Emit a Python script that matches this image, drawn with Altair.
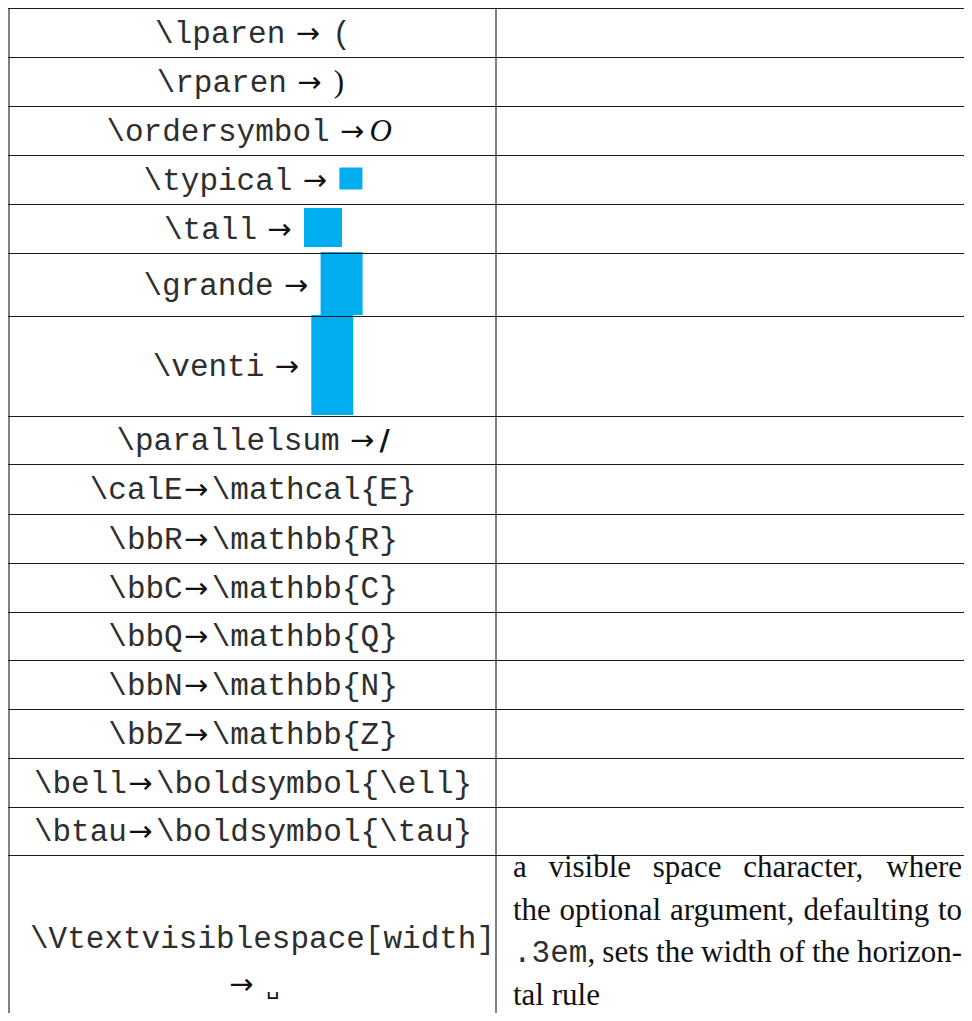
import altair as alt
import pandas as pd

# ---------------- data (content of the table) ----------------
commands = ["\\lparen", "\\rparen", "\\ordersymbol", "\\typical", "\\tall", "\\grande",
            "\\venti", "\\parallelsum", "\\calE", "\\bbR", "\\bbC", "\\bbQ", "\\bbN",
            "\\bbZ", "\\bell", "\\btau", "\\Vtextvisiblespace[width]"]
results = ["(", ")", "O", "", "", "", "", "/", "\\mathcal{E}", "\\mathbb{R}", "\\mathbb{C}",
           "\\mathbb{Q}", "\\mathbb{N}", "\\mathbb{Z}", "\\boldsymbol{\\ell}",
           "\\boldsymbol{\\tau}", "\u2423"]
result_kinds = ["mono", "serif", "calig", "box", "box", "box", "box", "bold",
                "mono", "mono", "mono", "mono", "mono", "mono", "mono", "mono", "vspace"]
descriptions = [""] * 16 + [
    "a visible space character, where|the optional argument, defaulting to|"
    "`.3em`, sets the width of the horizon-|tal rule"
]

# ---------------- layout (page pixel geometry) ----------------
W, H = 956, 1005                      # drawing area (page minus 8px margins)
X0, Y0 = 8, 8
TABLE_LEFT, COL_SPLIT, TABLE_RIGHT, TABLE_TOP = 9, 496, 972, 8
row_heights = [49, 49, 49, 49, 49, 63, 100, 48, 50, 49, 49, 48, 49, 49, 49, 48, 200]
box_dims = {"\\typical": (23, 22), "\\tall": (38, 39), "\\grande": (42, 63), "\\venti": (42, 100)}
F = 31
CW = 0.6 * F
CELL_CENTER = 253
CELL_PAD = 21
ARROW = 25
DESC_LEFT, DESC_RIGHT = 513, 962
DESC_FIRST = 22
DESC_LEAD = 42.5

MONO = "Liberation Mono, Courier New, monospace"
SERIF = "Liberation Serif, Times New Roman, serif"
INK = "#111111"
MONO_INK = "#2e2e2e"
BLUE = "#00AEEF"

TW = {' ': 250, ',': 250, '-': 333, '.': 250, 'a': 444, 'b': 500, 'c': 444, 'd': 500,
      'e': 444, 'f': 333, 'g': 500, 'h': 500, 'i': 278, 'j': 278, 'k': 500, 'l': 278,
      'm': 778, 'n': 500, 'o': 500, 'p': 500, 'q': 500, 'r': 333, 's': 389, 't': 278,
      'u': 500, 'v': 500, 'w': 722, 'x': 500, 'y': 500, 'z': 444}


def serif_w(s, fs=F):
    return sum(TW.get(c, 500) for c in s) * fs / 1000.0


layers = {k: [] for k in ["mono", "serif", "arrow", "calig", "bold", "vspace"]}
boxes, hrules, vrules = [], [], []

y = TABLE_TOP
bounds = [y]
for i, cmd in enumerate(commands):
    h = row_heights[i]
    top, bottom = y, y + h
    cy = (top + bottom) / 2
    res, kind = results[i], result_kinds[i]
    tight = kind == "mono" and len(res) > 1
    cmd_w = len(cmd) * CW
    if kind == "box":
        res_w = box_dims[cmd][0]
    elif kind == "mono":
        res_w = len(res) * CW
    elif kind == "serif":
        res_w = serif_w(res)
    elif kind == "calig":
        res_w = 30
    elif kind == "bold":
        res_w = 10
    else:
        res_w = 11
    if tight:
        pre, post = 1, 3
    else:
        pre, post = 10, (5 if kind in ("calig", "bold") else 12)

    def place_result(rx, base):
        if kind == "box":
            bw, bh = box_dims[cmd]
            boxes.append({"x": rx, "x2": rx + bw, "y": cy - 1 - bh / 2, "y2": cy - 1 + bh / 2})
        else:
            layers[kind].append({"x": rx, "y": base, "t": res})

    total = cmd_w + pre + ARROW + post + res_w
    if total <= COL_SPLIT - TABLE_LEFT - 2 * CELL_PAD:
        base = cy + 10
        x0 = CELL_CENTER - total / 2
        layers["mono"].append({"x": x0, "y": base, "t": cmd})
        layers["arrow"].append({"x": x0 + cmd_w + pre + ARROW / 2, "y": base, "t": "\u2192"})
        place_result(x0 + cmd_w + pre + ARROW + post, base)
    else:
        base1 = top + 93
        base2 = top + 139
        x0 = max(CELL_CENTER - cmd_w / 2, TABLE_LEFT + CELL_PAD)
        layers["mono"].append({"x": x0, "y": base1, "t": cmd})
        tot2 = ARROW + post + res_w
        x1 = CELL_CENTER - tot2 / 2
        layers["arrow"].append({"x": x1 + ARROW / 2, "y": base2, "t": "\u2192"})
        place_result(x1 + ARROW + post, base2)

    # description column (justified text)
    if descriptions[i]:
        lines = descriptions[i].split("|")
        for k, line in enumerate(lines):
            base = top + DESC_FIRST + k * DESC_LEAD
            words = []
            for wtxt in line.split(" "):
                segs = []
                parts = wtxt.split("`")
                for j, p in enumerate(parts):
                    if p:
                        segs.append(("mono" if j % 2 == 1 else "serif", p))
                words.append(segs)
            widths = [sum(len(p) * CW if f == "mono" else serif_w(p) for f, p in segs)
                      for segs in words]
            last = k == len(lines) - 1
            if last or len(words) < 2:
                gap = serif_w(" ")
            else:
                gap = (DESC_RIGHT - DESC_LEFT - sum(widths)) / (len(words) - 1)
            cx = DESC_LEFT
            for segs, ww in zip(words, widths):
                sx = cx
                for f, p in segs:
                    layers[f].append({"x": sx, "y": base, "t": p})
                    sx += len(p) * CW if f == "mono" else serif_w(p)
                cx += ww + gap

    y = bottom
    bounds.append(y)

x_end = min(TABLE_RIGHT, X0 + W)
y_end = min(bounds[-1], Y0 + H)
for b in bounds:
    if b <= Y0 + H:
        hrules.append({"x": TABLE_LEFT - 1, "x2": x_end, "y": b + 0.5, "y2": b + 0.5})
for vx in [TABLE_LEFT, COL_SPLIT]:
    vrules.append({"x": vx, "x2": vx, "y": TABLE_TOP, "y2": y_end})

XS = alt.Scale(domain=[X0, X0 + W], nice=False, zero=False)
YS = alt.Scale(domain=[Y0 + H, Y0], nice=False, zero=False)


def text_layer(rows, font, size, align="left", weight="normal", style="normal", color=INK):
    df = pd.DataFrame(rows)
    return alt.Chart(df).mark_text(
        font=font, fontSize=size, align=align, baseline="alphabetic",
        fontWeight=weight, fontStyle=style, color=color
    ).encode(
        x=alt.X("x:Q", scale=XS, axis=None),
        y=alt.Y("y:Q", scale=YS, axis=None),
        text="t:N",
    )


hr = alt.Chart(pd.DataFrame(hrules)).mark_rule(color="#1a1a1a", strokeWidth=1).encode(
    x=alt.X("x:Q", scale=XS, axis=None), x2="x2:Q",
    y=alt.Y("y:Q", scale=YS, axis=None), y2="y2:Q")
vr = alt.Chart(pd.DataFrame(vrules)).mark_rule(color="#808080", strokeWidth=2).encode(
    x=alt.X("x:Q", scale=XS, axis=None), x2="x2:Q",
    y=alt.Y("y:Q", scale=YS, axis=None), y2="y2:Q")
bx = alt.Chart(pd.DataFrame(boxes)).mark_rect(color=BLUE).encode(
    x=alt.X("x:Q", scale=XS, axis=None), x2="x2:Q",
    y=alt.Y("y:Q", scale=YS, axis=None), y2="y2:Q")

parts = [bx, vr, hr,
         text_layer(layers["mono"], MONO, F, color=MONO_INK),
         text_layer(layers["serif"], SERIF, F),
         text_layer(layers["arrow"], "DejaVu Sans", 29, align="center"),
         text_layer(layers["calig"], SERIF, F, style="italic"),
         text_layer(layers["bold"], "DejaVu Sans", 28, weight="bold"),
         text_layer(layers["vspace"], "DejaVu Sans Mono", 22)]

chart = alt.layer(*parts).properties(
    width=W, height=H, padding=0,
    autosize=alt.AutoSizeParams(type="none"),
    background="white",
).configure_view(strokeWidth=0)

chart.save("out.html", embed_options={"renderer": "svg", "actions": False})
